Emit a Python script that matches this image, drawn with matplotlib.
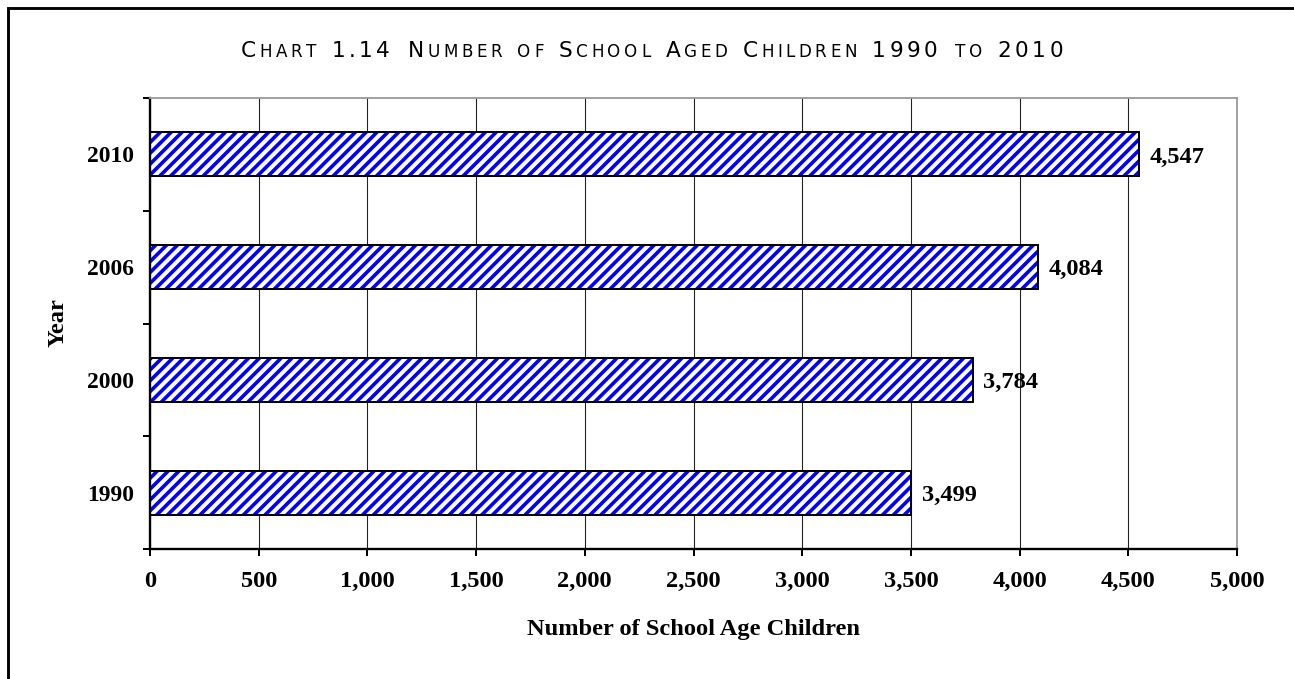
import matplotlib
matplotlib.use("Agg")
import matplotlib.pyplot as plt
from matplotlib.patches import Rectangle
from matplotlib.font_manager import FontProperties

# data
years  = ["1990", "2000", "2006", "2010"]
counts = [3499, 3784, 4084, 4547]
xticks = list(range(0, 5001, 500))

W, H, DPI = 1294, 679, 130
plt.rcParams["hatch.linewidth"] = 2.0
SERIF = ["Liberation Serif", "DejaVu Serif"]

fig = plt.figure(figsize=(W / DPI, H / DPI), dpi=DPI)
fig.patch.set_facecolor("white")
ax = fig.add_axes([150 / W, 1 - 549 / H, (1237 - 150) / W, (549 - 98) / H])

pos = list(range(len(years)))
# hatch fill, then outline on top
ax.barh(pos, counts, height=0.39, color="white", edgecolor="#0000FF",
        hatch="////", linewidth=0, zorder=2)
ax.barh(pos, counts, height=0.39, fill=False, edgecolor="black",
        linewidth=1.1, zorder=3)

for p, v in zip(pos, counts):
    ax.annotate(f"{v:,}", (v, p), xytext=(6, -1.5), textcoords="offset points",
                va="center", ha="left", fontsize=13.5, fontweight="bold",
                family=SERIF)

ax.set_xlim(0, 5000)
ax.set_ylim(-0.5, len(years) - 0.5)
ax.set_xticks(xticks)
ax.set_xticklabels([f"{x:,}" for x in xticks], fontsize=13.5,
                   fontweight="bold", family=SERIF)
ax.tick_params(axis="x", direction="out", length=4, width=1.1, pad=8)

# y: tick marks on category boundaries, labels at the centres
ax.set_yticks([p - 0.5 for p in pos] + [len(years) - 0.5])
ax.set_yticklabels([])
ax.tick_params(axis="y", which="major", direction="out", length=4, width=1.1)
ax.set_yticks(pos, minor=True)
ax.set_yticklabels(years, minor=True, fontsize=13, fontweight="bold",
                   family=SERIF)
ax.tick_params(axis="y", which="minor", length=0, pad=9)

ax.grid(axis="x", color="#222222", linewidth=0.6, zorder=1)
ax.set_axisbelow(True)
for s in ["left", "bottom"]:
    ax.spines[s].set_linewidth(1.3)
for s in ["top", "right"]:
    ax.spines[s].set_color("#999999")
    ax.spines[s].set_linewidth(1.0)

ax.set_xlabel("Number of School Age Children", fontsize=13.5, fontweight="bold",
              family=SERIF, labelpad=15)
fig.text(58 / W, 1 - 323 / H, "Year", rotation=90, ha="center", va="center",
         fontsize=13.5, fontweight="bold", family=SERIF)

# title in small caps, letter by letter with tracking
segs = [("C", 1), ("HART ", 0), ("1.14 ", 1), ("N", 1), ("UMBER OF ", 0),
        ("S", 1), ("CHOOL ", 0), ("A", 1), ("GED ", 0), ("C", 1),
        ("HILDREN ", 0), ("1990 ", 1), ("TO ", 0), ("2010", 1)]
big_fp = FontProperties(family="DejaVu Sans", size=12.0)
small_fp = FontProperties(family="DejaVu Sans", size=9.3)
renderer = fig.canvas.get_renderer()
chars = [(c, big_fp if big else small_fp) for s, big in segs for c in s]
advs = [renderer.get_text_width_height_descent(c, fp, ismath=False)[0]
        for c, fp in chars]
advs = [a * 1.6 if c == " " else a for (c, _), a in zip(chars, advs)]
t_left, t_right = 241, 1063
track = (t_right - t_left - sum(advs)) / (len(chars) - 1)
x = t_left
for (c, fp), a in zip(chars, advs):
    if c != " ":
        fig.text(x / W, 1 - 57 / H, c, fontproperties=fp,
                 va="baseline", ha="left")
    x += a + track

# outer frame (only left/top edges visible in the crop)
fig.patches.append(Rectangle((8 / W, -0.05), 1.2, 1.05 - 8 / H,
                             transform=fig.transFigure, fill=False,
                             edgecolor="black", linewidth=1.6))

fig.savefig("out.png", dpi=DPI)
